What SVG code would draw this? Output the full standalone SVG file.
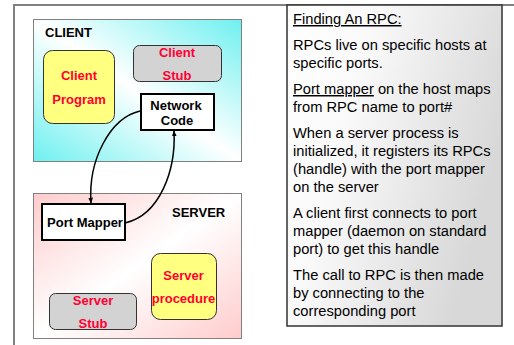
<svg xmlns="http://www.w3.org/2000/svg" width="514" height="345" viewBox="0 0 514 345">
<defs>
<linearGradient id="gClient" x1="0" y1="1" x2="1" y2="0">
<stop offset="0" stop-color="#6FF0F0"/><stop offset="0.5" stop-color="#FFFFFF"/><stop offset="1" stop-color="#6FF0F0"/>
</linearGradient>
<linearGradient id="gServer" x1="0" y1="0" x2="1" y2="1">
<stop offset="0" stop-color="#FFCCCC"/><stop offset="0.5" stop-color="#FFFFFF"/><stop offset="1" stop-color="#FFCCCC"/>
</linearGradient>
<linearGradient id="gPanel" x1="0" y1="0" x2="1" y2="0.4">
<stop offset="0" stop-color="#FFFFFF"/><stop offset="0.35" stop-color="#FAFAFA"/><stop offset="1" stop-color="#D8D8D8"/>
</linearGradient>
<marker id="arr" viewBox="0 0 10 10" refX="9" refY="5" markerWidth="6" markerHeight="6" orient="auto" markerUnits="userSpaceOnUse">
<path d="M0,1 L10,5 L0,9 z" fill="#000"/>
</marker>
<style>
.frame{fill:none;stroke:#808080;stroke-width:2}
.area{stroke:#808080;stroke-width:1}
.prog{fill:#FFFF80;stroke:#333;stroke-width:1}
.stub{fill:#D3D3D3;stroke:#333;stroke-width:1}
.box{fill:#FFFFFF;stroke:#000;stroke-width:2}
.red{font-family:"Liberation Sans",Arial,sans-serif;font-weight:bold;font-size:13px;fill:#FF0033;text-anchor:middle}
.blk{font-family:"Liberation Sans",Arial,sans-serif;font-weight:bold;font-size:13px;fill:#000}
.txt{font-family:"Liberation Sans",Arial,sans-serif;font-size:14.7px;fill:#000}
.conn{fill:none;stroke:#000;stroke-width:1.5;marker-end:url(#arr)}
</style>
</defs>
<rect width="514" height="345" fill="#FFFFFF"/>
<path class="frame" d="M14,345 V5 H514"/>
<g id="panel">
<rect x="287" y="5" width="215" height="321" fill="url(#gPanel)" stroke="#333" stroke-width="1.5"/>
<text class="txt" x="293" y="24" text-decoration="underline">Finding An RPC:</text>
<text class="txt" x="293" y="50">RPCs live on specific hosts at</text>
<text class="txt" x="293" y="68">specific ports.</text>
<text class="txt" x="293" y="94"><tspan text-decoration="underline">Port mapper</tspan> on the host maps</text>
<text class="txt" x="293" y="112">from RPC name to port#</text>
<text class="txt" x="293" y="138">When a server process is</text>
<text class="txt" x="293" y="156">initialized, it registers its RPCs</text>
<text class="txt" x="293" y="174">(handle) with the port mapper</text>
<text class="txt" x="293" y="192">on the server</text>
<text class="txt" x="293" y="218">A client first connects to port</text>
<text class="txt" x="293" y="236">mapper (daemon on standard</text>
<text class="txt" x="293" y="254">port) to get this handle</text>
<text class="txt" x="293" y="280">The call to RPC is then made</text>
<text class="txt" x="293" y="298">by connecting to the</text>
<text class="txt" x="293" y="316">corresponding port</text>
</g>
<g id="client">
<rect class="area" x="33.5" y="19.5" width="208" height="142" fill="url(#gClient)"/>
<text class="blk" x="45" y="37">CLIENT</text>
</g>
<g id="server">
<rect class="area" x="33.5" y="193.5" width="208" height="145" fill="url(#gServer)"/>
<text class="blk" x="172" y="217">SERVER</text>
</g>
<g id="client-program">
<rect class="prog" x="43.5" y="50.5" width="71" height="73" rx="9"/>
<text class="red" x="79" y="80">Client</text>
<text class="red" x="79" y="104">Program</text>
</g>
<g id="client-stub">
<rect class="stub" x="133.5" y="45.5" width="88" height="36" rx="6"/>
<text class="red" x="177" y="57">Client</text>
<text class="red" x="177" y="80">Stub</text>
</g>
<g id="network-code">
<rect class="box" x="141" y="94" width="73" height="36"/>
<text class="blk" x="176" y="110" text-anchor="middle">Network</text>
<text class="blk" x="177" y="125" text-anchor="middle">Code</text>
</g>
<g id="port-mapper">
<rect class="box" x="42" y="204" width="83" height="36"/>
<text class="blk" x="85" y="227" text-anchor="middle">Port Mapper</text>
</g>
<g id="server-procedure">
<rect class="prog" x="151.5" y="253.5" width="65" height="66" rx="9"/>
<text class="red" x="183.5" y="280">Server</text>
<text class="red" x="183.5" y="303">procedure</text>
</g>
<g id="server-stub">
<rect class="stub" x="49.5" y="293.5" width="87" height="36" rx="6"/>
<text class="red" x="93" y="305">Server</text>
<text class="red" x="93" y="328">Stub</text>
</g>
<g id="connectors">
<path class="conn" d="M140,111 C110,118 88,160 91,203"/>
<path class="conn" d="M125,223 C160,215 176,170 174,131"/>
</g>
</svg>
